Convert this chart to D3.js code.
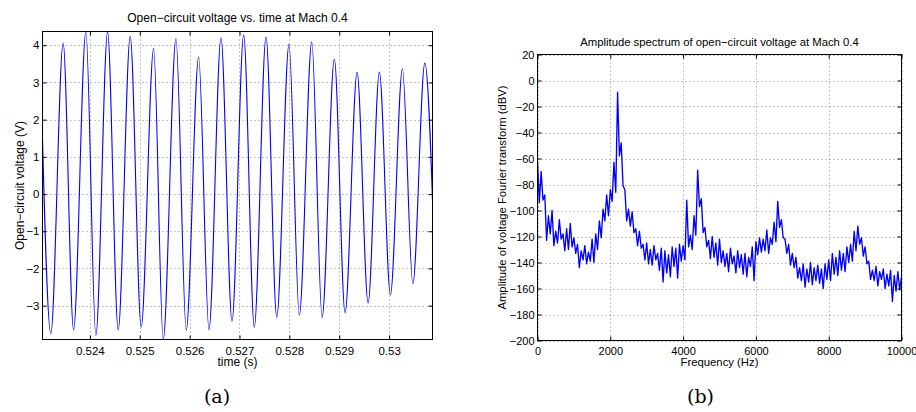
<!DOCTYPE html>
<html><head><meta charset="utf-8">
<script src="https://cdn.jsdelivr.net/npm/d3@7"></script>
<style>
body{margin:0;background:#fff}
</style>
</head><body>
<svg id="c" width="916" height="412"></svg>
<script>
// ---------- (a) time-domain waveform: extrema ----------
const peakTimes = [0.523000, 0.523464, 0.523920, 0.524355, 0.524809, 0.525278, 0.525726, 0.526181, 0.526629,
  0.527084, 0.527532, 0.527993, 0.528449, 0.528902, 0.529358, 0.529805, 0.530267, 0.530716];
const peakVolts = [4.1, 4.06, 4.37, 4.36, 4.24, 3.91, 4.18, 3.69, 4.2, 4.28, 4.23, 4.03, 4.09, 3.63, 3.27, 3.28, 3.37, 3.52];
const troughTimes = [0.523217, 0.523673, 0.524120, 0.524568, 0.525029, 0.525471, 0.525932, 0.526388, 0.526850,
  0.527297, 0.527747, 0.528200, 0.528656, 0.529117, 0.529579, 0.530026, 0.530476, 0.530923];
const troughVolts = [-3.75, -3.65, -3.8, -3.66, -3.57, -3.91, -3.66, -3.65, -3.42, -3.58, -3.31, -3.26, -3.32, -3.19, -2.93, -2.71, -2.41, -2.3];
const timeDomain = [0.52305, 0.53087];
const voltDomain = [-3.91, 4.37];
const timeTicks = [0.524, 0.525, 0.526, 0.527, 0.528, 0.529, 0.530];
const timeTickLabels = ["0.524", "0.525", "0.526", "0.527", "0.528", "0.529", "0.53"];
const voltTicks = [-3, -2, -1, 0, 1, 2, 3, 4];

// ---------- (b) amplitude spectrum: upper / lower noise envelope ----------
const specHighHz = d3.range(0, 10001, 100);
const specHigh = [-62, -70, -88, -104, -100, -116, -107, -118, -114, -110,
  -121, -126, -131, -127, -132, -122, -118, -108, -99, -88,
  -84, -63, -9, -48, -84, -99, -101, -114, -116, -126,
  -125, -130, -127, -133, -129, -131, -134, -128, -129, -126,
  -127, -92, -119, -104, -69, -91, -113, -123, -120, -125,
  -122, -131, -133, -129, -135, -131, -134, -133, -136, -128,
  -124, -121, -122, -115, -121, -109, -93, -107, -122, -126,
  -133, -136, -144, -141, -145, -140, -144, -142, -145, -141,
  -138, -133, -136, -131, -133, -128, -126, -116, -112, -121,
  -128, -139, -146, -143, -147, -145, -149, -146, -150, -147, -151];
const specLowHz = d3.range(50, 10000, 100);
const specLow = [-94, -92, -123, -118, -127, -125, -122, -131, -130, -128,
  -133, -144, -138, -141, -139, -140, -130, -121, -108, -104,
  -93, -86, -58, -81, -108, -112, -117, -127, -129, -138,
  -141, -142, -138, -146, -155, -148, -151, -143, -152, -139,
  -138, -128, -130, -119, -97, -117, -128, -137, -136, -142,
  -140, -143, -147, -141, -148, -144, -149, -151, -143, -154,
  -134, -132, -131, -133, -126, -124, -113, -121, -133, -142,
  -144, -152, -154, -159, -155, -157, -154, -156, -160, -153,
  -154, -149, -150, -146, -147, -140, -139, -131, -126, -135,
  -141, -153, -154, -158, -153, -160, -158, -170, -162, -161];
const freqDomain = [0, 10000];
const dbDomain = [-200, 20];
const freqTicks = [0, 2000, 4000, 6000, 8000, 10000];
const dbTicks = [20, 0, -20, -40, -60, -80, -100, -120, -140, -160, -180, -200];

const svg = d3.select("#c");
const BLUE = "#0000ff";
const SANS = "'Liberation Sans', Arial, Helvetica, sans-serif";

function drawPanel(o) {
  const g = svg.append("g");
  const [x0, x1] = o.x.range(), [y1, y0] = o.y.range();
  const w = x1 - x0, h = y1 - y0;
  // grid
  const grid = g.append("g");
  grid.selectAll("line.v").data(o.xTicks).enter().append("line")
    .attr("x1", d => Math.round(o.x(d)) + 0.5).attr("x2", d => Math.round(o.x(d)) + 0.5)
    .attr("y1", y0).attr("y2", y1);
  grid.selectAll("line.h").data(o.yTicks).enter().append("line")
    .attr("y1", d => Math.round(o.y(d)) + 0.5).attr("y2", d => Math.round(o.y(d)) + 0.5)
    .attr("x1", x0).attr("x2", x1);
  grid.selectAll("line").attr("stroke", "#8c8c8c").attr("stroke-width", 1)
    .attr("stroke-dasharray", "1,3");
  // data
  const clipId = "clip" + o.id;
  svg.append("clipPath").attr("id", clipId).append("rect")
    .attr("x", x0).attr("y", y0).attr("width", w).attr("height", h);
  g.append("path").datum(o.points).attr("clip-path", `url(#${clipId})`)
    .attr("fill", "none").attr("stroke", BLUE).attr("stroke-width", o.lw)
    .attr("stroke-linejoin", "round")
    .attr("d", d3.line().x(d => o.x(d[0])).y(d => o.y(d[1])).curve(o.curve));
  // axes with inward ticks
  const bottom = g.append("g").attr("transform", `translate(0,${y1})`)
    .call(d3.axisBottom(o.x).tickValues(o.xTicks).tickFormat((d, i) => o.xLabels[i]).tickSizeInner(-4).tickSizeOuter(0).tickPadding(7));
  const left = g.append("g").attr("transform", `translate(${x0},0)`)
    .call(d3.axisLeft(o.y).tickValues(o.yTicks).tickFormat(d3.format("d")).tickSizeInner(-4).tickSizeOuter(0).tickPadding(3));
  const top = g.append("g").attr("transform", `translate(0,${y0})`)
    .call(d3.axisTop(o.x).tickValues(o.xTicks).tickFormat("").tickSizeInner(-4).tickSizeOuter(0));
  const right = g.append("g").attr("transform", `translate(${x1},0)`)
    .call(d3.axisRight(o.y).tickValues(o.yTicks).tickFormat("").tickSizeInner(-4).tickSizeOuter(0));
  [bottom, left, top, right].forEach(a => {
    a.attr("font-family", null).attr("font-size", null);
    a.select(".domain").remove();
    a.selectAll("text").style("font-size", o.fs + "px").style("font-family", SANS).attr("fill", "#000");
    a.selectAll("line").attr("stroke", "#000");
  });
  // frame
  g.append("rect").attr("x", x0).attr("y", y0).attr("width", w).attr("height", h)
    .attr("fill", "none").attr("stroke", "#000").attr("stroke-width", 1);
  // title and labels
  const lab = (sel) => sel.style("font-family", SANS).style("font-size", o.tfs + "px").attr("fill", "#000");
  lab(g.append("text").attr("x", (x0 + x1) / 2).attr("y", o.titleY).attr("text-anchor", "middle").text(o.title));
  lab(g.append("text").attr("x", (x0 + x1) / 2).attr("y", o.xLabY).attr("text-anchor", "middle").text(o.xLabel));
  lab(g.append("text").attr("transform", `translate(${o.yLabX},${(y0 + y1) / 2}) rotate(-90)`)
    .attr("text-anchor", "middle").text(o.yLabel));
  svg.append("text").attr("x", o.capX).attr("y", 403).attr("text-anchor", "middle")
    .style("font-family", "'DejaVu Serif', 'Liberation Serif', serif").style("font-size", "19px")
    .attr("fill", "#000").text(o.caption);
}

// (a)
const wavePts = peakTimes.map((t, i) => [t, peakVolts[i]])
  .concat(troughTimes.map((t, i) => [t, troughVolts[i]]))
  .sort((a, b) => a[0] - b[0]);
drawPanel({
  id: "a",
  x: d3.scaleLinear().domain(timeDomain).range([42.5, 432.5]),
  y: d3.scaleLinear().domain(voltDomain).range([339.5, 31.5]),
  xTicks: timeTicks, xLabels: timeTickLabels, yTicks: voltTicks,
  points: wavePts, curve: d3.curveMonotoneX, lw: 1.1,
  fs: 11.5, tfs: 12,
  title: "Open\u2212circuit voltage vs. time at Mach 0.4", titleY: 21.5,
  xLabel: "time (s)", xLabY: 366,
  yLabel: "Open\u2212circuit voltage (V)", yLabX: 24,
  caption: "(a)", capX: 217
});

// (b)
const specPts = specHighHz.map((f, i) => [f, specHigh[i]])
  .concat(specLowHz.map((f, i) => [f, specLow[i]]))
  .sort((a, b) => a[0] - b[0]);
drawPanel({
  id: "b",
  x: d3.scaleLinear().domain(freqDomain).range([537.5, 901.5]),
  y: d3.scaleLinear().domain(dbDomain).range([340.5, 54.5]),
  xTicks: freqTicks, xLabels: freqTicks.map(String), yTicks: dbTicks,
  points: specPts, curve: d3.curveLinear, lw: 1.35,
  fs: 11, tfs: 11.3,
  title: "Amplitude spectrum of open\u2212circuit voltage at Mach 0.4", titleY: 46,
  xLabel: "Frequency (Hz)", xLabY: 366,
  yLabel: "Amplitude of voltage Fourier transform (dBV)", yLabX: 506,
  caption: "(b)", capX: 700.5
});
</script>
</body></html>
